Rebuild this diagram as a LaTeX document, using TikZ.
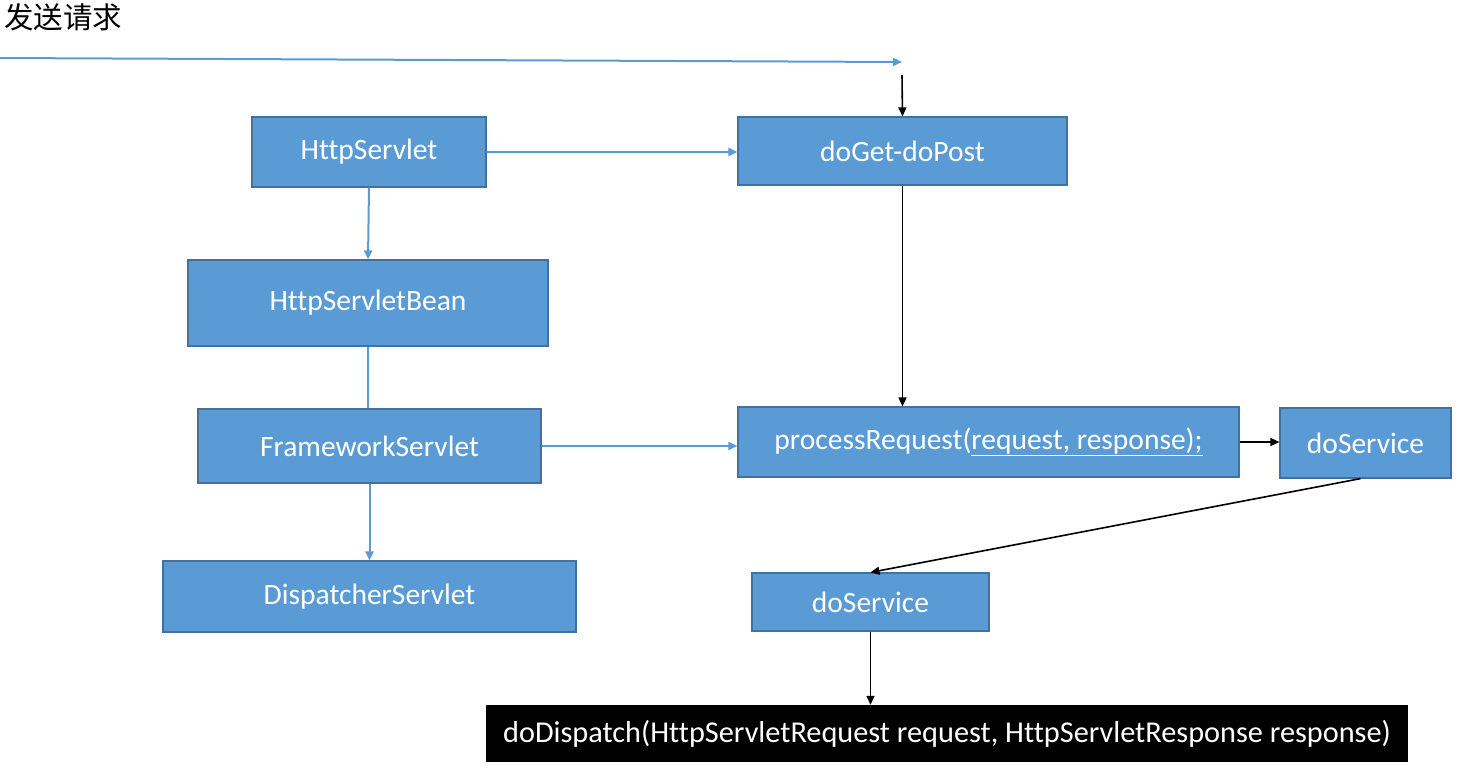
\documentclass[tikz,border=0pt]{standalone}
\usepackage{fontspec}
\setmainfont{Carlito}[Ligatures={NoCommon}]
\newfontfamily\cjk{Noto Sans CJK SC}
\usetikzlibrary{arrows.meta,positioning,calc}
\definecolor{boxblue}{HTML}{5B9BD5}
\definecolor{boxedge}{HTML}{41719C}

\begin{document}
\begin{tikzpicture}[x=1pt, y=-1pt, >={Triangle[length=9pt,width=8pt]},
        box/.style={rectangle, draw=boxedge, fill=boxblue, line width=1.2pt, text=white, font=\fontsize{29.5}{33}\selectfont, inner sep=0pt},
        dark/.style={rectangle, fill=black, text=white, font=\fontsize{30.3}{34}\selectfont, inner sep=0pt},
        flow/.style={->, boxblue, line width=2pt},
        call/.style={->, black, line width=1.6pt}]

        \useasboundingbox (0,0) rectangle (1465,772);

        % left column
        \node [box, minimum width=234pt, minimum height=70pt] (hs) at (369,152) {HttpServlet};
        \node [box, minimum width=360pt, minimum height=86pt] (hsb) at (368,303) {HttpServletBean};
        \node [box, minimum width=343pt, minimum height=74pt] (fw) at (369.5,446) {FrameworkServlet};
        \node [box, minimum width=413pt, minimum height=71pt] (ds) at (369.5,596.5) {DispatcherServlet};

        % right side
        \node [box, minimum width=329pt, minimum height=68pt] (doget) at (902.5,151) {doGet-doPost};
        \node [box, minimum width=501pt, minimum height=70pt] (pr) at (988.5,442) {processRequest(\underline{request, response);}};
        \node [box, minimum width=171pt, minimum height=70pt] (svc) at (1365.5,443) {doService};
        \node [box, minimum width=237pt, minimum height=58pt] (svc2) at (870.5,602) {doService};
        \node [dark, minimum width=922pt, minimum height=57pt] (disp) at (947,733.5) {doDispatch(HttpServletRequest request, HttpServletResponse response)};

        % request
        \node [anchor=north west, inner sep=0pt, font=\cjk\fontsize{29.5}{33}\selectfont] (title) at (4,3) {发送请求};
        \coordinate (reqa) at (0,58);
        \coordinate (reqb) at (902,62);
        \coordinate (entry) at (902,75);
        \draw[flow] (reqa) -- (reqb);
        \draw[call] (entry) -- (doget.north);

        \draw[flow] (hs.south) -- (hsb.north);
        \draw[boxblue, line width=2pt] (hsb.south) -- (hsb.south |- fw.north);
        \draw[flow] (fw.south) -- (fw.south |- ds.north);
        \draw[flow] (hs.east) -- (hs.east -| doget.west);
        \draw[flow] (fw.east) -- (fw.east -| pr.west);

        \draw[call] (doget.south) -- (doget.south |- pr.north);
        \draw[call] (pr.east) -- (pr.east -| svc.west);
        \draw[call] ([xshift=-5pt]svc.south) -- (svc2.north);
        \draw[call] (svc2.south) -- (svc2.south |- disp.north);
    \end{tikzpicture}
\end{document}
